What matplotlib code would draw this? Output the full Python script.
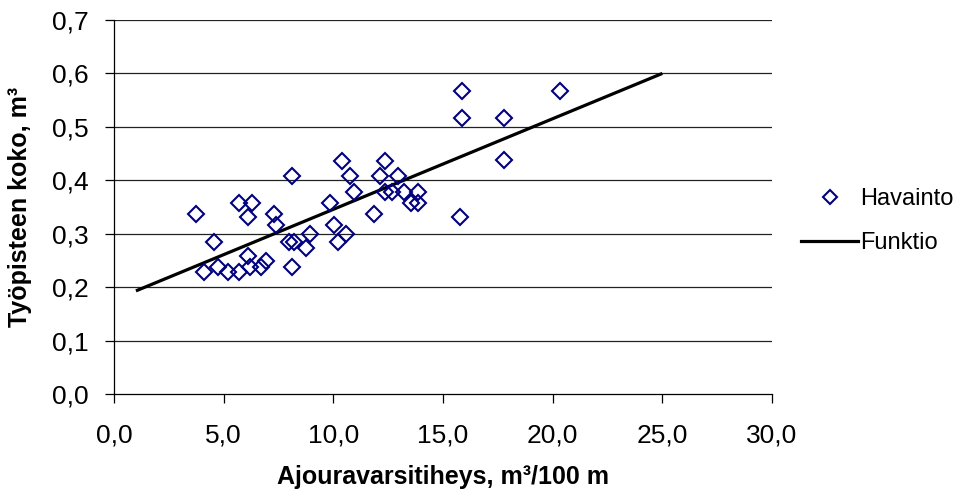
import matplotlib
matplotlib.use("Agg")
import matplotlib.pyplot as plt
from matplotlib.lines import Line2D

plt.rcParams['font.family'] = ['Liberation Sans', 'DejaVu Sans']

# Observations (Havainto)
obs_x = [3.74, 4.11, 4.57, 4.73, 5.18, 5.72, 5.72, 6.10, 6.29, 6.10, 6.18, 6.71, 6.94,
         7.31, 7.40, 8.11, 8.00, 8.20, 8.11, 8.77, 8.95, 9.86, 10.02, 10.20, 10.58,
         10.40, 10.75, 10.93, 11.87, 12.11, 12.37, 12.37, 12.68, 12.95, 13.21, 13.52,
         13.85, 13.85, 15.88, 15.88, 15.77, 17.78, 17.78, 20.33]
obs_y = [0.336, 0.229, 0.284, 0.237, 0.229, 0.229, 0.358, 0.331, 0.358, 0.259, 0.237, 0.237, 0.249,
         0.337, 0.317, 0.408, 0.285, 0.285, 0.237, 0.273, 0.299, 0.358, 0.317, 0.284, 0.299,
         0.437, 0.408, 0.379, 0.336, 0.408, 0.437, 0.379, 0.379, 0.408, 0.379, 0.358,
         0.379, 0.358, 0.568, 0.517, 0.332, 0.517, 0.438, 0.568]

# Function (Funktio)
fun_x = [1.0, 25.0]
fun_y = [0.193, 0.600]

x_ticks = [0, 5, 10, 15, 20, 25, 30]
x_labels = ["0,0", "5,0", "10,0", "15,0", "20,0", "25,0", "30,0"]
y_ticks = [0.0, 0.1, 0.2, 0.3, 0.4, 0.5, 0.6, 0.7]
y_labels = ["0,0", "0,1", "0,2", "0,3", "0,4", "0,5", "0,6", "0,7"]

fig = plt.figure(figsize=(9.66, 5.0), dpi=100)
ax = fig.add_axes([114/966, 1 - 394/500, (772 - 114)/966, (394 - 20)/500])

ax.set_xlim(0, 30)
ax.set_ylim(0, 0.7)
ax.set_yticks(y_ticks)
ax.set_yticklabels(y_labels)
ax.set_xticks(x_ticks)
ax.set_xticklabels(x_labels)

for v in y_ticks[1:]:
    ax.axhline(v, color='#222222', lw=0.9, zorder=0)

ax.spines['top'].set_visible(False)
ax.spines['right'].set_visible(False)
ax.spines['left'].set_color('black')
ax.spines['bottom'].set_color('black')
ax.spines['left'].set_linewidth(0.9)
ax.spines['bottom'].set_linewidth(0.9)

ax.tick_params(axis='y', direction='out', length=6.5, width=0.9, pad=12, labelsize=19)
ax.tick_params(axis='x', direction='out', length=6.5, width=0.9, pad=15, labelsize=19)

ax.plot(fun_x, fun_y, color='black', lw=2.3, zorder=2, solid_capstyle='butt')
ax.plot(obs_x, obs_y, linestyle='none', marker='D', ms=8.3, mfc='none',
        mec='#000080', mew=1.5, zorder=3)

ax.set_xlabel("Ajouravarsitiheys, m³/100 m", fontsize=18, fontweight='bold')
ax.set_ylabel("Työpisteen koko, m³", fontsize=18, fontweight='bold')
ax.xaxis.set_label_coords(0.5, -0.19)
ax.yaxis.set_label_coords(-0.125, 0.5)

handles = [
    Line2D([], [], linestyle='none', marker='D', ms=7.5, mfc='none', mec='#000080', mew=1.5),
    Line2D([], [], color='black', lw=2.3),
]
fig.legend(handles, ["Havainto", "Funktio"], loc='center left',
           bbox_to_anchor=(792/966, 1 - 221/500), frameon=False, fontsize=17,
           handlelength=2.4, handletextpad=0.1, labelspacing=0.95, borderaxespad=0)

fig.savefig("out.png", dpi=100)
